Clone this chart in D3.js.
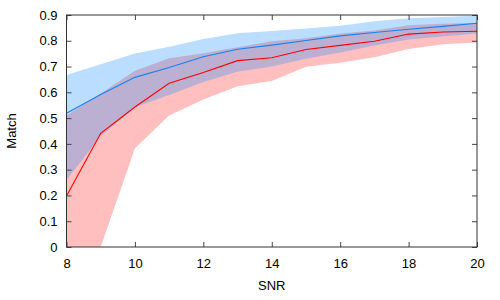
<!DOCTYPE html>
<html lang="en">
<head>
  <meta charset="UTF-8" />
  <title>Match vs SNR</title>
  <style>
    body {
      margin: 0;
      background: #fff;
      font-family: 'Liberation Sans', Arial, sans-serif;
    }
    .tick text {
      font-size: 13px;
      fill: #000;
    }
    .tick line {
      stroke: #444;
    }
    .label {
      font-size: 13px;
      fill: #000;
    }
  </style>
</head>
<body>
  <div id="chart"></div>

  <script src="https://d3js.org/d3.v7.min.js"></script>
  <script>
    // values
    const snr = [8, 9, 10, 11, 12, 13, 14, 15, 16, 17, 18, 19, 20];
    const blueMean = [0.519, 0.592, 0.658, 0.696, 0.738, 0.767, 0.783, 0.801, 0.819, 0.832, 0.845, 0.856, 0.868];
    const blueUpper = [0.667, 0.709, 0.751, 0.777, 0.807, 0.829, 0.838, 0.848, 0.858, 0.876, 0.887, 0.892, 0.897];
    const blueLower = [0.26, 0.43, 0.542, 0.59, 0.64, 0.68, 0.70, 0.73, 0.755, 0.782, 0.805, 0.817, 0.828];
    const redMean = [0.198, 0.441, 0.543, 0.635, 0.677, 0.723, 0.734, 0.766, 0.782, 0.798, 0.826, 0.834, 0.837];
    const redUpper = [0.51, 0.595, 0.684, 0.732, 0.752, 0.775, 0.798, 0.81, 0.828, 0.84, 0.86, 0.866, 0.87];
    const redLower = [-0.1, 0.0, 0.383, 0.51, 0.572, 0.624, 0.644, 0.699, 0.715, 0.736, 0.768, 0.787, 0.793];

    const xTicks = [8, 10, 12, 14, 16, 18, 20];
    const yTicks = [0, 0.1, 0.2, 0.3, 0.4, 0.5, 0.6, 0.7, 0.8, 0.9];
    const yTickLabels = ["0", "0.1", "0.2", "0.3", "0.4", "0.5", "0.6", "0.7", "0.8", "0.9"];

    const width = 500;
    const height = 300;
    const margin = { top: 15, right: 23, bottom: 53, left: 66.5 };
    const w = width - margin.left - margin.right;
    const h = height - margin.top - margin.bottom;

    const svg = d3.select("#chart")
                  .append("svg")
                  .attr("width", width)
                  .attr("height", height);

    const g = svg.append("g")
                 .attr("transform", `translate(${margin.left},${margin.top})`);

    const x = d3.scaleLinear().domain([8, 20]).range([0, w]);
    const y = d3.scaleLinear().domain([0, 0.9]).range([h, 0]);

    g.append("clipPath")
     .attr("id", "plotClip")
     .append("rect")
     .attr("width", w)
     .attr("height", h);

    const plot = g.append("g").attr("clip-path", "url(#plotClip)");

    const band = (lo, hi) => d3.area()
      .x((d, i) => x(snr[i]))
      .y0((d, i) => y(lo[i]))
      .y1((d, i) => y(hi[i]));

    const line = vals => d3.line()
      .x((d, i) => x(snr[i]))
      .y((d, i) => y(vals[i]));

    // red band first, blue band over it gives the purple overlap
    plot.append("path")
        .attr("d", band(redLower, redUpper)(snr))
        .style("fill", "rgb(255, 0, 0)")
        .style("fill-opacity", 0.25);

    plot.append("path")
        .attr("d", band(blueLower, blueUpper)(snr))
        .style("fill", "rgb(30, 144, 255)")
        .style("fill-opacity", 0.3);

    plot.append("path")
        .attr("d", line(blueMean)(snr))
        .style("fill", "none")
        .style("stroke", "rgb(20, 130, 240)")
        .style("stroke-width", 1.1);

    plot.append("path")
        .attr("d", line(redMean)(snr))
        .style("fill", "none")
        .style("stroke", "rgb(255, 0, 0)")
        .style("stroke-width", 1.1);

    // axes, ticks pointing inward on all four sides
    const tickLen = 5;
    const yFmt = d => yTickLabels[yTicks.indexOf(d)];

    const axBottom = g.append("g")
      .attr("transform", `translate(0,${h})`)
      .call(d3.axisBottom(x).tickValues(xTicks).tickSizeInner(-tickLen).tickSizeOuter(0).tickPadding(12));
    const axTop = g.append("g")
      .call(d3.axisTop(x).tickValues(xTicks).tickSizeInner(-tickLen).tickSizeOuter(0).tickFormat(""));
    const axLeft = g.append("g")
      .call(d3.axisLeft(y).tickValues(yTicks).tickSizeInner(-tickLen).tickSizeOuter(0).tickPadding(9).tickFormat(yFmt));
    const axRight = g.append("g")
      .attr("transform", `translate(${w},0)`)
      .call(d3.axisRight(y).tickValues(yTicks).tickSizeInner(-tickLen).tickSizeOuter(0).tickFormat(""));

    [axBottom, axTop, axLeft, axRight].forEach(a => {
      a.select(".domain").remove();
      a.attr("font-family", null).attr("font-size", null);
    });

    g.append("rect")
     .attr("width", w)
     .attr("height", h)
     .style("fill", "none")
     .style("stroke", "#333")
     .style("stroke-width", 1);

    svg.append("text")
       .attr("class", "label")
       .attr("x", margin.left + w / 2)
       .attr("y", 290)
       .attr("text-anchor", "middle")
       .text("SNR");

    svg.append("text")
       .attr("class", "label")
       .attr("transform", `translate(16,${margin.top + h / 2}) rotate(-90)`)
       .attr("text-anchor", "middle")
       .text("Match");
  </script>
</body>
</html>
